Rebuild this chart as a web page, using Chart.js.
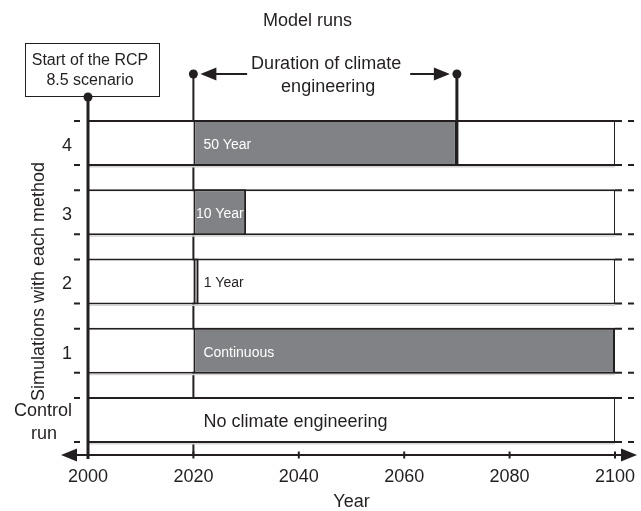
<!DOCTYPE html>
<html>
<head>
<meta charset="utf-8">
<script src="https://cdn.jsdelivr.net/npm/chart.js@4.4.1/dist/chart.umd.min.js"></script>
<style>
  html, body { margin: 0; padding: 0; background: #fff; }
  #wrap { width: 641px; height: 511px; }
</style>
</head>
<body>
<div id="wrap"><canvas id="myChart"></canvas></div>
<script>
/* datos del esquema */
const runLabels = ["4", "3", "2", "1", ["Control", "run   "]];
const runStart = [2000, 2000, 2000, 2000, 2000];
const runEnd = [2100, 2100, 2100, 2100, 2100];
const ceStart = [2020, 2020, 2020, 2020, null];
const ceEnd = [2070, 2030, 2021, 2100, null];
const ceText = ["50 Year", "10 Year", "1 Year", "Continuous", "No climate engineering"];
const yearTicks = [2000, 2020, 2040, 2060, 2080, 2100];
const rcpYear = 2000;
const ceFirstYear = 2020;
const ceLongestEnd = 2070;

const INK = "#231f20";
const GREY = "#808285";
const FONT = "'Liberation Sans', Arial, Helvetica, sans-serif";

function arrowHead(ctx, tipX, y, dir, len, half) {
	ctx.beginPath();
	ctx.moveTo(tipX, y);
	ctx.lineTo(tipX - dir * len, y - half);
	ctx.lineTo(tipX - dir * len, y + half);
	ctx.closePath();
	ctx.fill();
}

function dot(ctx, x, y) {
	ctx.beginPath();
	ctx.arc(x, y, 4.5, 0, Math.PI * 2);
	ctx.fill();
}

function vline(ctx, x, y0, y1, w) {
	ctx.lineWidth = w;
	ctx.beginPath();
	ctx.moveTo(x, y0);
	ctx.lineTo(x, y1);
	ctx.stroke();
}

const markerY = 74;

const diagram = {
	id: "diagram",
	beforeDatasetsDraw(chart) {
		const { ctx, chartArea, scales: { x } } = chart;
		ctx.save();
		ctx.strokeStyle = INK;
		// linea del inicio de la ingenieria climatica
		vline(ctx, x.getPixelForValue(ceFirstYear), markerY, chartArea.bottom, 2);
		ctx.restore();
	},
	afterDatasetsDraw(chart) {
		const { ctx, chartArea: ca, scales: { x } } = chart;
		const rows = chart.getDatasetMeta(0).data;
		const bars = chart.getDatasetMeta(1).data;
		const x00 = x.getPixelForValue(rcpYear);
		const x20 = x.getPixelForValue(ceFirstYear);
		const x70 = x.getPixelForValue(ceLongestEnd);
		ctx.save();
		ctx.fillStyle = INK;
		ctx.strokeStyle = INK;

		// marcas en los bordes de cada fila
		rows.forEach((r) => {
			const top = r.y - r.height / 2;
			const bot = r.y + r.height / 2;
			ctx.fillStyle = "#d4d4d4";
			ctx.fillRect(r.base, bot, r.x - r.base, 1.5);
			ctx.fillStyle = INK;
			[top, bot - 2].forEach((yy) => {
				ctx.fillRect(ca.left - 14, yy, 6, 2);
				ctx.fillRect(r.x, yy, 7, 2);
				ctx.fillRect(r.x + 13, yy, 6, 2);
			});
		});

		// eje del tiempo con flechas
		const ay = Math.round(ca.bottom);
		ctx.lineWidth = 2;
		ctx.beginPath();
		ctx.moveTo(ca.left - 20, ay);
		ctx.lineTo(ca.right + 12, ay);
		ctx.stroke();
		arrowHead(ctx, ca.left - 27, ay, -1, 16, 6.5);
		arrowHead(ctx, ca.right + 22, ay, 1, 16, 6.5);
		yearTicks.forEach((v) => {
			vline(ctx, x.getPixelForValue(v), ay - 3.5, ay + 3.5, 2);
		});

		// inicio del escenario RCP
		vline(ctx, x00, 97, ay + 4, 3);
		dot(ctx, x00, 97);
		ctx.lineWidth = 1;
		ctx.strokeRect(x00 - 62.5, 43.5, 134, 53);
		ctx.font = "16px " + FONT;
		ctx.textAlign = "center";
		ctx.textBaseline = "middle";
		ctx.fillText("Start of the RCP", x00 + 2, 61);
		ctx.fillText("8.5 scenario", x00 + 2, 81);

		// duracion de la ingenieria climatica
		vline(ctx, x70, markerY, rows[0].y + rows[0].height / 2, 3);
		dot(ctx, x20, markerY);
		dot(ctx, x70, markerY);
		const cx = (x20 + x70) / 2 + 1;
		ctx.font = "18px " + FONT;
		ctx.fillText("Duration of climate", cx, 64);
		ctx.fillText("engineering", cx + 2, 87);
		const tw = ctx.measureText("Duration of climate").width;
		ctx.lineWidth = 2;
		ctx.beginPath();
		ctx.moveTo(cx - tw / 2 - 4, markerY);
		ctx.lineTo(x20 + 16, markerY);
		ctx.moveTo(cx + tw / 2 + 9, markerY);
		ctx.lineTo(x70 - 16, markerY);
		ctx.stroke();
		arrowHead(ctx, x20 + 7, markerY, -1, 16, 6.5);
		arrowHead(ctx, x70 - 7, markerY, 1, 16, 6.5);

		// textos de las barras
		ctx.textAlign = "left";
		ceText.forEach((t, i) => {
			const yy = rows[i].y + 2;
			if (ceStart[i] === null) {
				ctx.font = "18px " + FONT;
				ctx.fillStyle = INK;
				ctx.fillText(t, x20 + 10, yy);
				return;
			}
			const b = bars[i];
			ctx.font = "14px " + FONT;
			const w = ctx.measureText(t).width;
			const bw = b.x - b.base;
			if (bw >= w + 2) {
				ctx.fillStyle = "#fff";
				ctx.fillText(t, b.base + Math.min(10, (bw - w) / 2), yy);
			} else {
				ctx.fillStyle = INK;
				ctx.fillText(t, b.x + 5, yy);
			}
		});
		ctx.restore();
	},
};

const ctx = document.getElementById("myChart").getContext("2d");
let myChart = new Chart(ctx, {
	type: "bar",
	data: {
		labels: runLabels,
		datasets: [
			{
				label: "Model run",
				data: runStart.map((s, i) => [s, runEnd[i]]),
				backgroundColor: "#fff",
				borderColor: INK,
				borderWidth: { top: 2, bottom: 2, left: 0, right: 1 },
				borderSkipped: false,
				grouped: false,
				barThickness: 46,
				inflateAmount: 0,
				order: 1,
			},
			{
				label: "Climate engineering",
				data: ceStart.map((s, i) => (s === null ? null : [s, ceEnd[i]])),
				backgroundColor: GREY,
				borderColor: INK,
				borderWidth: { top: 2, bottom: 2, left: 2, right: 2 },
				borderSkipped: false,
				grouped: false,
				barThickness: 46,
				inflateAmount: 0,
				order: 0,
			},
		],
	},
	options: {
		indexAxis: "y",
		responsive: true,
		maintainAspectRatio: false,
		animation: false,
		events: [],
		layout: { padding: { left: 0, right: 26, top: 0, bottom: 0 } },
		plugins: {
			legend: { display: false },
			tooltip: { enabled: false },
			title: {
				display: true,
				text: "Model runs",
				color: INK,
				font: { family: FONT, size: 18, weight: "normal" },
				padding: { top: 10, bottom: 76.8 },
			},
		},
		scales: {
			x: {
				type: "linear",
				min: 2000,
				max: 2100,
				afterBuildTicks: (s) => {
					s.ticks = yearTicks.map((v) => ({ value: v }));
				},
				afterFit: (s) => {
					s.height = 56.4;
					s.paddingLeft = 0;
					s.paddingRight = 0;
				},
				grid: { display: false, drawTicks: false },
				border: { display: false },
				ticks: {
					color: INK,
					padding: 12,
					font: { family: FONT, size: 18 },
					callback: (v) => String(v),
				},
				title: {
					display: true,
					text: "Year",
					color: INK,
					font: { family: FONT, size: 18, lineHeight: 1 },
					padding: { top: 0, bottom: 0 },
				},
			},
			y: {
				afterFit: (s) => {
					s.width = 88;
				},
				grid: { display: false, drawTicks: false },
				border: { display: false },
				ticks: {
					color: INK,
					padding: 16,
					labelOffset: 3,
					font: { family: FONT, size: 18, lineHeight: 1.28 },
				},
				title: {
					display: true,
					text: "Simulations with each method",
					color: INK,
					font: { family: FONT, size: 18 },
					padding: { top: 28, bottom: 0 },
				},
			},
		},
	},
	plugins: [diagram],
});
</script>
</body>
</html>
